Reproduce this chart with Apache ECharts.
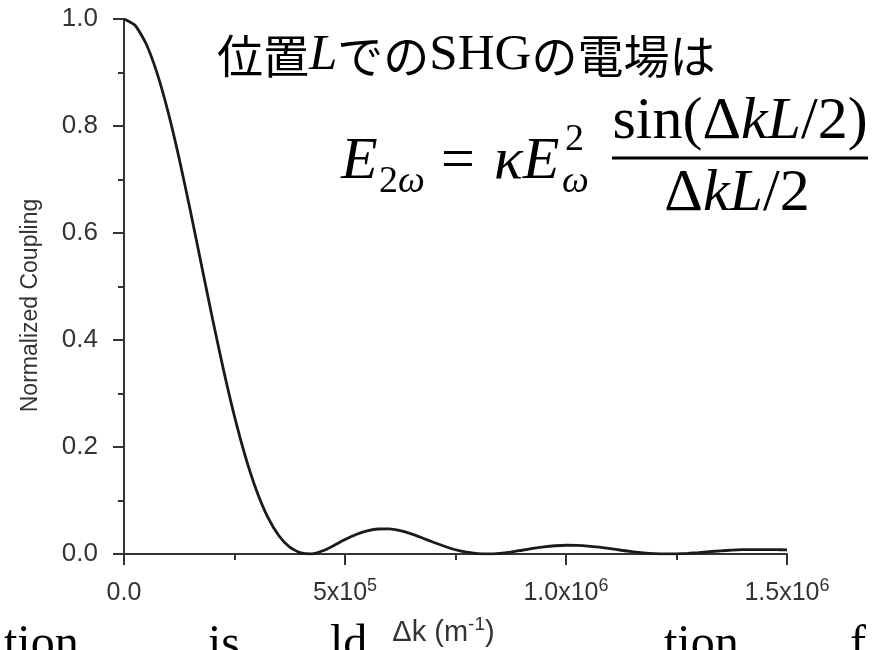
<!DOCTYPE html>
<html>
<head>
<meta charset="utf-8">
<script src="https://cdn.jsdelivr.net/npm/echarts@6/dist/echarts.min.js"></script>
<style>
  html, body { margin: 0; padding: 0; background: #fff; }
  #chart { width: 883px; height: 650px; }
</style>
</head>
<body>
<div id="chart"></div>
<script>
// Δk (m^-1) sample positions and normalized coupling
var dk = [
  0, 25000, 50000, 75000, 100000, 125000, 150000, 175000, 200000, 225000,
  250000, 275000, 300000, 325000, 350000, 375000, 400000, 425000, 450000, 475000,
  500000, 525000, 550000, 575000, 600000, 625000, 650000, 675000, 700000, 725000,
  750000, 775000, 800000, 825000, 850000, 875000, 900000, 925000, 950000, 975000,
  1000000, 1025000, 1050000, 1075000, 1100000, 1125000, 1150000, 1175000, 1200000, 1225000,
  1250000, 1275000, 1300000, 1325000, 1350000, 1375000, 1400000, 1425000, 1450000, 1475000,
  1500000
];
var coupling = [
  1.0, 0.9883, 0.9538, 0.8984, 0.8255, 0.7386, 0.6420, 0.5412, 0.4406, 0.3446,
  0.2572, 0.1812, 0.1183, 0.0693, 0.0346, 0.0127, 0.0020, 0.0003, 0.0060, 0.0160,
  0.0270, 0.0365, 0.0433, 0.0467, 0.0468, 0.0435, 0.0376, 0.0300, 0.0220, 0.0145,
  0.0079, 0.0033, 0.0007, 0.0001, 0.0012, 0.0037, 0.0070, 0.0103, 0.0133, 0.0154,
  0.0164, 0.0162, 0.0149, 0.0127, 0.0099, 0.0070, 0.0043, 0.0021, 0.0006, 0.0001,
  0.0003, 0.0012, 0.0026, 0.0043, 0.0059, 0.0072, 0.0080, 0.0083, 0.0082, 0.0080,
  0.0078
];

// tick labels
var xTickValues = [0, 500000, 1000000, 1500000];
var xTickBase = ['0.0', '5x10', '1.0x10', '1.5x10'];
var xTickExp = ['', '5', '6', '6'];
var yTickLabels = ['0.0', '0.2', '0.4', '0.6', '0.8', '1.0'];

var axisColor = '#333';
var sans = 'Liberation Sans';
var serif = 'Liberation Serif';
var cjk = 'Noto Sans CJK JP';

var chart = echarts.init(document.getElementById('chart'));

var points = dk.map(function (v, i) { return [v, coupling[i]]; });

var option = {
  backgroundColor: '#fff',
  animation: false,
  grid: { left: 124, right: 96, top: 19, bottom: 96, outerBoundsMode: 'none' },
  xAxis: {
    type: 'value',
    min: 0,
    max: 1500000,
    interval: 500000,
    name: 'Δk (m{sup|-1})',
    nameLocation: 'middle',
    nameGap: 58,
    nameTextStyle: {
      color: axisColor, fontFamily: sans, fontSize: 29, lineHeight: 36,
      padding: [0, 24, 0, 0],
      rich: { sup: { fontSize: 19, lineHeight: 19, verticalAlign: 'top', fontFamily: sans, color: axisColor } }
    },
    axisLine: { onZero: false, lineStyle: { color: axisColor, width: 2 } },
    axisTick: { length: 11, lineStyle: { color: axisColor, width: 2 } },
    minorTick: { show: true, splitNumber: 2, length: 6, lineStyle: { color: axisColor, width: 2 } },
    splitLine: { show: false },
    axisLabel: {
      margin: 23,
      color: axisColor, fontFamily: sans, fontSize: 25, lineHeight: 33,
      formatter: function (v) {
        var i = xTickValues.indexOf(v);
        if (i < 0) return '';
        return xTickExp[i] ? xTickBase[i] + '{sup|' + xTickExp[i] + '}' : xTickBase[i];
      },
      rich: { sup: { fontSize: 18, lineHeight: 18, verticalAlign: 'top', fontFamily: sans, color: axisColor } }
    }
  },
  yAxis: {
    type: 'value',
    min: 0,
    max: 1,
    interval: 0.2,
    name: 'Normalized Coupling',
    nameLocation: 'middle',
    nameRotate: 90,
    nameGap: 82,
    nameTextStyle: { color: axisColor, fontFamily: sans, fontSize: 23, padding: [0, 38, 0, 0] },
    axisLine: { show: true, lineStyle: { color: axisColor, width: 2 } },
    axisTick: { show: true, length: 11, lineStyle: { color: axisColor, width: 2 } },
    minorTick: { show: true, splitNumber: 2, length: 6, lineStyle: { color: axisColor, width: 2 } },
    splitLine: { show: false },
    axisLabel: {
      margin: 26,
      color: axisColor, fontFamily: sans, fontSize: 26,
      formatter: function (v) { return yTickLabels[Math.round(v / 0.2)]; }
    }
  },
  series: [{
    type: 'line',
    data: points,
    showSymbol: false,
    smooth: 0.2,
    lineStyle: { color: '#1a1a1a', width: 2.8 }
  }],
  graphic: [
    {
      type: 'text', x: 217, y: 56,
      style: {
        text: '{j|位置}{i|L}{j|での}{r|SHG}{j|の電場は}',
        verticalAlign: 'middle',
        rich: {
          j: { fontFamily: cjk, fontSize: 46, fill: '#000' },
          i: { fontFamily: serif, fontStyle: 'italic', fontSize: 51, fill: '#000' },
          r: { fontFamily: serif, fontSize: 51, fill: '#000' }
        }
      }
    },
    { type: 'text', x: 341, y: 162, style: { text: 'E', font: 'italic 60px "Liberation Serif"', fill: '#000', verticalAlign: 'middle' } },
    { type: 'text', x: 379, y: 182, style: { text: '{r|2}{i|ω}', verticalAlign: 'middle',
      rich: { r: { fontFamily: serif, fontSize: 38, fill: '#000' }, i: { fontFamily: serif, fontStyle: 'italic', fontSize: 38, fill: '#000' } } } },
    { type: 'text', x: 441, y: 162, style: { text: '=', font: '60px "Liberation Serif"', fill: '#000', verticalAlign: 'middle' } },
    { type: 'text', x: 494, y: 162, style: { text: 'κE', font: 'italic 60px "Liberation Serif"', fill: '#000', verticalAlign: 'middle' } },
    { type: 'text', x: 565, y: 140, style: { text: '2', font: '38px "Liberation Serif"', fill: '#000', verticalAlign: 'middle' } },
    { type: 'text', x: 562, y: 182, style: { text: 'ω', font: 'italic 38px "Liberation Serif"', fill: '#000', verticalAlign: 'middle' } },
    { type: 'text', x: 740, y: 122, style: { text: '{r|sin(Δ}{i|kL}{r|/2)}', align: 'center', verticalAlign: 'middle',
      rich: { r: { fontFamily: serif, fontSize: 60, fill: '#000' }, i: { fontFamily: serif, fontStyle: 'italic', fontSize: 60, fill: '#000' } } } },
    { type: 'line', shape: { x1: 612, y1: 158, x2: 868, y2: 158 }, style: { stroke: '#000', lineWidth: 3 } },
    { type: 'text', x: 737, y: 194, style: { text: '{r|Δ}{i|kL}{r|/2}', align: 'center', verticalAlign: 'middle',
      rich: { r: { fontFamily: serif, fontSize: 60, fill: '#000' }, i: { fontFamily: serif, fontStyle: 'italic', fontSize: 60, fill: '#000' } } } },
    // slide text cut off at the bottom edge
    { type: 'text', x: 4, y: 645, style: { text: 'tion', font: '48px "Liberation Serif"', fill: '#000', verticalAlign: 'middle' } },
    { type: 'text', x: 208, y: 645, style: { text: 'is', font: '48px "Liberation Serif"', fill: '#000', verticalAlign: 'middle' } },
    { type: 'text', x: 330, y: 645, style: { text: 'ld', font: '48px "Liberation Serif"', fill: '#000', verticalAlign: 'middle' } },
    { type: 'text', x: 664, y: 645, style: { text: 'tion', font: '48px "Liberation Serif"', fill: '#000', verticalAlign: 'middle' } },
    { type: 'text', x: 850, y: 645, style: { text: 'f', font: '48px "Liberation Serif"', fill: '#000', verticalAlign: 'middle' } }
  ]
};

chart.setOption(option);
</script>
</body>
</html>
